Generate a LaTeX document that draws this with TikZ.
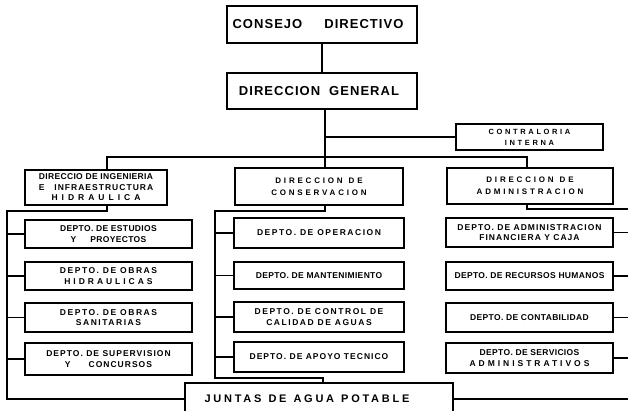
\documentclass[tikz,border=0pt]{standalone}
\usepackage{fontspec}
\setmainfont{Liberation Sans}
\newfontfamily\deptf[LetterSpace=12]{Liberation Sans}
\newfontfamily\narf[LetterSpace=4]{Liberation Sans}
\newfontfamily\widef[LetterSpace=18]{Liberation Sans}
\newfontfamily\headf[LetterSpace=35]{Liberation Sans}
\newfontfamily\topf[LetterSpace=8]{Liberation Sans}
\newfontfamily\juntf[LetterSpace=25]{Liberation Sans}
\begin{document}
\begin{tikzpicture}[x=1pt,y=-1pt,line width=1.3pt,
  box/.style={draw,line width=1.3pt,inner sep=0pt,align=center,
    font=\deptf\bfseries\fontsize{8.5}{10.5}\selectfont},
  narbox/.style={box,font=\narf\bfseries\fontsize{8.5}{10.5}\selectfont},
  widebox/.style={box,font=\widef\bfseries\fontsize{8.5}{10.5}\selectfont},
  headbox/.style={box,font=\headf\bfseries\fontsize{8}{12}\selectfont},
  topbox/.style={box,font=\topf\bfseries\fontsize{13}{15}\selectfont},
  juntbox/.style={box,font=\juntf\bfseries\fontsize{11}{13}\selectfont}]
\path[use as bounding box] (0,0) rectangle (628,410);
\clip (0,0) rectangle (628,410);

% top
\node[topbox,minimum width=190,minimum height=37] (cd) at (322,24.5) {CONSEJO\hspace{22pt}DIRECTIVO\hspace{8pt}};
\node[topbox,minimum width=190,minimum height=36] (dg) at (322,91) {DIRECCION\hspace{9pt}GENERAL\hspace{6pt}};
\node[headbox,font=\headf\bfseries\fontsize{7.5}{11}\selectfont,minimum width=147,minimum height=26] (ci) at (529.5,137) {CONTRALORIA\\INTERNA};

% direcciones
\node[narbox,minimum width=142,minimum height=35] (d1) at (96,187.5) {DIRECCIO DE INGENIERIA\\{\deptf E\hspace{10pt}INFRAESTRUCTURA}\\H\hspace{4pt}I\hspace{4pt}D\hspace{4pt}R\hspace{4pt}A\hspace{4pt}U\hspace{4pt}L\hspace{4pt}I\hspace{4pt}C\hspace{4pt}A};
\node[headbox,minimum width=168,minimum height=37] (d2) at (319,186.5) {DIRECCION\hspace{6pt}DE\\CONSERVACION};
\node[headbox,minimum width=166,minimum height=36] (d3) at (530,186) {DIRECCION\hspace{6pt}DE\\ADMINISTRACION};

% left depts
\node[narbox,minimum width=167,minimum height=28] (l1) at (108.5,234) {DEPTO. DE ESTUDIOS\\Y\hspace{14pt}PROYECTOS};
\node[widebox,minimum width=167,minimum height=28] (l2) at (108.5,276) {DEPTO. DE OBRAS\\{\headf HIDRAULICAS}};
\node[widebox,minimum width=167,minimum height=29] (l3) at (108.5,317.5) {DEPTO. DE OBRAS\\SANITARIAS};
\node[box,minimum width=167,minimum height=32] (l4) at (108.5,359) {DEPTO. DE SUPERVISION\\Y\hspace{18pt}CONCURSOS};

% middle depts
\node[widebox,minimum width=170,minimum height=30] (m1) at (319,233) {DEPTO. DE OPERACION};
\node[narbox,minimum width=170,minimum height=27] (m2) at (319,275.5) {DEPTO. DE MANTENIMIENTO};
\node[widebox,minimum width=170,minimum height=30] (m3) at (319,317) {DEPTO. DE CONTROL DE\\CALIDAD DE AGUAS};
\node[box,minimum width=170,minimum height=30] (m4) at (319,357) {DEPTO. DE APOYO TECNICO};

% right depts
\node[box,minimum width=167,minimum height=29] (r1) at (529.5,232.5) {DEPTO. DE ADMINISTRACION\\FINANCIERA Y CAJA};
\node[narbox,minimum width=167,minimum height=28] (r2) at (529.5,276) {DEPTO. DE RECURSOS HUMANOS};
\node[narbox,minimum width=167,minimum height=29] (r3) at (529.5,317.5) {DEPTO. DE CONTABILIDAD};
\node[narbox,minimum width=167,minimum height=30] (r4) at (529.5,358) {DEPTO. DE SERVICIOS\hspace{14pt}\\{\headf ADMINISTRATIVOS}};

% juntas
\node[juntbox,minimum width=268,minimum height=32] (j) at (319,399) {JUNTAS\hspace{7pt}DE\hspace{7pt}AGUA\hspace{7pt}POTABLE\hspace{24pt}};

% coordinates
\coordinate (vx) at (325,0);
\coordinate (busL) at (107,157);
\coordinate (busR) at (527,157);
\coordinate (lt) at (107,211);
\coordinate (lx) at (7,211);
\coordinate (mt) at (325,211);
\coordinate (mx) at (215,211);
\coordinate (mb) at (215,378);
\coordinate (mj) at (323,378);
\coordinate (rt) at (527,209);
\coordinate (rx) at (640,209);

% connectors
\draw (cd.south) -- (dg.north);
\draw (dg.south -| vx) -- (d2.north -| vx);
\draw (vx |- ci.west) -- (ci.west);
\draw (d1.north -| busL) -- (busL) -- (busR) -- (d3.north -| busR);

\draw (d1.south -| lt) -- (lt) -- (lx) |- (j.west);
\foreach \n in {l1,l2,l3,l4} \draw (lx |- \n.west) -- (\n.west);

\draw (d2.south -| mt) -- (mt) -- (mx) -- (mb) -- (mj) -- (mj |- j.north);
\foreach \n in {m1,m2,m3,m4} \draw (mx |- \n.west) -- (\n.west);

\draw (d3.south -| rt) -- (rt) -- (rx) -- (rx |- j.east) -- (j.east);
\foreach \n in {r1,r2,r3,r4} \draw (\n.east) -- (rx |- \n.east);
\end{tikzpicture}
\end{document}
